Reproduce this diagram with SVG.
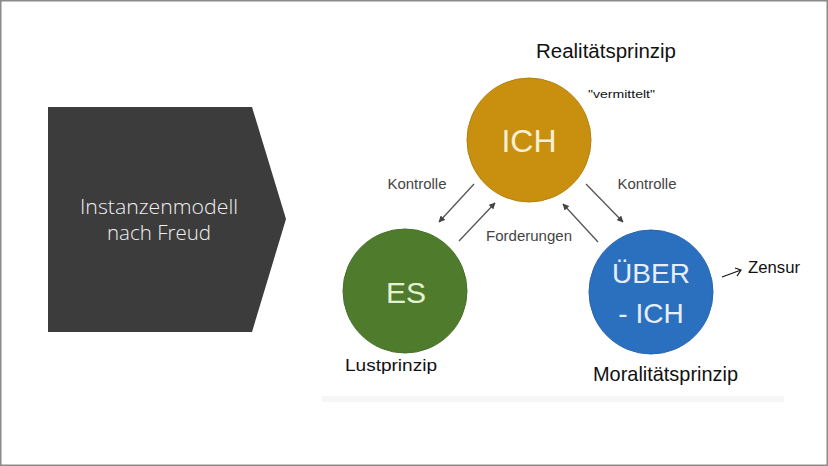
<svg xmlns="http://www.w3.org/2000/svg" width="828" height="466" viewBox="0 0 828 466">
<defs>
<style>
.lbl{font-family:"Liberation Sans",Arial,sans-serif;font-size:14px;fill:#444;text-anchor:middle}
.big{font-family:"Liberation Sans",Arial,sans-serif;text-anchor:middle}
.hand{font-family:"Liberation Sans",Arial,sans-serif;fill:#111}
.conn{stroke:#555;stroke-width:1.3;fill:none;marker-end:url(#ah)}
.ttl{font-family:"Open Sans","Noto Sans",sans-serif;font-weight:300;font-size:20.5px;fill:#f0f0f0;text-anchor:middle}
</style>
<marker id="ah" viewBox="0 0 10 10" refX="9" refY="5" markerWidth="5" markerHeight="5" orient="auto">
<path d="M0,0 L10,5 L0,10 z" fill="#444"/>
</marker>
</defs>
<rect x="0" y="0" width="828" height="466" fill="#ffffff"/>
<rect x="0.75" y="0.75" width="826.5" height="464.5" fill="none" stroke="#8a8a8a" stroke-width="1.5"/>
<rect x="322" y="396" width="462" height="6" fill="#f6f6f6"/>

<g id="title">
<polygon points="48,107 252,107 286,219 252,332 48,332" fill="#3c3c3c"/>
<text class="ttl" x="159" y="214" textLength="158" lengthAdjust="spacingAndGlyphs">Instanzenmodell</text>
<text class="ttl" x="159" y="240">nach Freud</text>
</g>

<g id="connectors">
<line class="conn" x1="474" y1="184" x2="439" y2="222"/>
<line class="conn" x1="459" y1="241" x2="495" y2="203"/>
<line class="conn" x1="598" y1="242" x2="563" y2="204"/>
<line class="conn" x1="586" y1="184" x2="623" y2="222"/>
<text class="lbl" x="417" y="189" textLength="59" lengthAdjust="spacingAndGlyphs">Kontrolle</text>
<text class="lbl" x="647" y="189" textLength="59" lengthAdjust="spacingAndGlyphs">Kontrolle</text>
<text class="lbl" x="529" y="241" textLength="86" lengthAdjust="spacingAndGlyphs">Forderungen</text>
</g>

<g id="ich">
<circle cx="529" cy="140" r="62" fill="#c98f0f" stroke="#b4800e" stroke-width="1"/>
<text class="big" x="529" y="152" font-size="32" fill="#f6efd6">ICH</text>
</g>

<g id="es">
<circle cx="405" cy="291" r="62" fill="#4f7b2d" stroke="#47702a" stroke-width="1"/>
<text class="big" x="406" y="303" font-size="30" fill="#e4f2d4">ES</text>
</g>

<g id="ueber-ich">
<circle cx="651" cy="292" r="62" fill="#2b70be" stroke="#2866b0" stroke-width="1"/>
<text class="big" x="651" y="283" font-size="28" fill="#e6eef9">ÜBER</text>
<text class="big" x="651" y="323" font-size="28" fill="#e6eef9">- ICH</text>
</g>

<g id="notes">
<text class="hand" x="536" y="58" font-size="20" textLength="140" lengthAdjust="spacingAndGlyphs">Realitätsprinzip</text>
<text class="hand" x="588" y="98" font-size="11" textLength="67" lengthAdjust="spacingAndGlyphs">"vermittelt"</text>
<text class="hand" x="345" y="371" font-size="16" textLength="92" lengthAdjust="spacingAndGlyphs">Lustprinzip</text>
<text class="hand" x="593" y="381" font-size="21" textLength="145" lengthAdjust="spacingAndGlyphs">Moralitätsprinzip</text>
<path d="M722,277 L741,270 M735,268 L741,270 L737,276" stroke="#111" stroke-width="1.2" fill="none"/>
<text class="hand" x="748" y="273" font-size="16" textLength="52" lengthAdjust="spacingAndGlyphs">Zensur</text>
</g>
</svg>
